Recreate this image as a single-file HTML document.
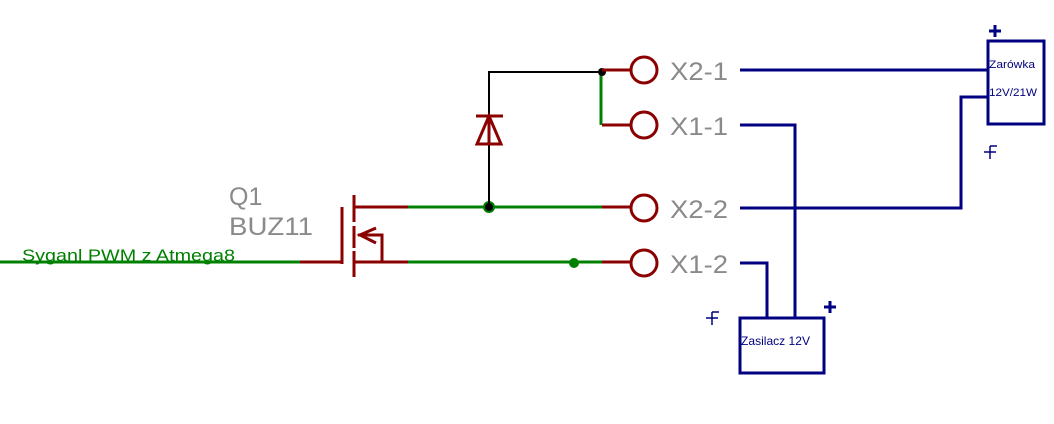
<!DOCTYPE html>
<html><head><meta charset="utf-8"><style>
html,body{margin:0;padding:0;background:#fff;width:1054px;height:424px;overflow:hidden}
</style></head><body>
<svg width="1054" height="424" viewBox="0 0 1054 424" xmlns="http://www.w3.org/2000/svg" font-family="Liberation Sans, sans-serif">
<rect width="1054" height="424" fill="#fff"/>
<g stroke="#008000" stroke-width="3" fill="none">
<line x1="0" y1="262" x2="300" y2="262"/>
<line x1="408" y1="207" x2="602" y2="207"/>
<line x1="408" y1="262" x2="602" y2="262"/>
<line x1="601" y1="72" x2="601" y2="125"/>
</g>
<circle cx="574" cy="263" r="5" fill="#008000"/>
<circle cx="489" cy="207" r="6" fill="#008000"/>
<g stroke="#000" stroke-width="2" fill="none">
<polyline points="489,118 489,72 602,72"/>
<line x1="489" y1="145" x2="489" y2="207"/>
</g>
<circle cx="489" cy="207" r="4" fill="#000"/>
<circle cx="602" cy="72" r="4" fill="#000"/>
<g stroke="#8b0000" stroke-width="3" fill="none">
<line x1="300" y1="262" x2="342" y2="262"/>
<line x1="342" y1="207" x2="342" y2="264"/>
<line x1="354" y1="195" x2="354" y2="222"/>
<line x1="354" y1="226" x2="354" y2="248"/>
<line x1="354" y1="251" x2="354" y2="277"/>
<line x1="354" y1="207" x2="408" y2="207"/>
<line x1="354" y1="262" x2="408" y2="262"/>
<polyline points="358,235 382,235 382,262"/>
<polyline points="376,228 360,235 376,243"/>
<line x1="602" y1="70" x2="630" y2="70"/>
<line x1="602" y1="125" x2="630" y2="125"/>
<line x1="602" y1="207" x2="630" y2="207"/>
<line x1="602" y1="262" x2="630" y2="262"/>
<circle cx="644" cy="70" r="13"/>
<circle cx="644" cy="125" r="13"/>
<circle cx="644" cy="208" r="13"/>
<circle cx="644" cy="263" r="13"/>
<polygon points="489,116 477,144 501,144"/>
<line x1="476" y1="116" x2="503" y2="116"/>
<line x1="489" y1="116" x2="489" y2="145"/>
</g>
<g fill="#8a8a8a" font-size="25">
<text x="229" y="205">Q1</text>
<text x="229" y="235" textLength="84" lengthAdjust="spacingAndGlyphs">BUZ11</text>
<text x="670" y="80" textLength="58" lengthAdjust="spacingAndGlyphs">X2-1</text>
<text x="670" y="135" textLength="58" lengthAdjust="spacingAndGlyphs">X1-1</text>
<text x="670" y="218" textLength="58" lengthAdjust="spacingAndGlyphs">X2-2</text>
<text x="670" y="273" textLength="58" lengthAdjust="spacingAndGlyphs">X1-2</text>
</g>
<text x="22" y="261" fill="#008000" font-size="17" textLength="213" lengthAdjust="spacingAndGlyphs">Syganl PWM z Atmega8</text>
<g stroke="#000080" stroke-width="3" fill="none">
<line x1="740" y1="70" x2="988" y2="70"/>
<polyline points="740,125 795,125 795,318"/>
<polyline points="740,208 961,208 961,97 988,97"/>
<polyline points="740,263 767,263 767,318"/>
<rect x="988" y="41" width="56" height="83"/>
<rect x="740" y="318" width="84" height="55"/>
</g>
<g stroke="#000080" stroke-width="3">
<line x1="989" y1="31" x2="1001" y2="31"/><line x1="995" y1="25" x2="995" y2="37"/>
<line x1="824" y1="307" x2="836" y2="307"/><line x1="830" y1="301" x2="830" y2="313"/>
</g>
<g stroke="#000080" stroke-width="1.5">
<line x1="706" y1="318" x2="718" y2="318"/><line x1="712" y1="312" x2="712" y2="325"/><line x1="712" y1="312" x2="719" y2="312"/>
<line x1="984" y1="152" x2="996" y2="152"/><line x1="990" y1="146" x2="990" y2="159"/><line x1="990" y1="146" x2="997" y2="146"/>
</g>
<g fill="#000080" font-size="11">
<text x="989" y="68" textLength="46" lengthAdjust="spacingAndGlyphs">Zarówka</text>
<text x="989" y="96" textLength="48" lengthAdjust="spacingAndGlyphs">12V/21W</text>
<text x="741" y="345" font-size="12" textLength="69" lengthAdjust="spacingAndGlyphs">Zasilacz 12V</text>
</g>
</svg>
</body></html>
